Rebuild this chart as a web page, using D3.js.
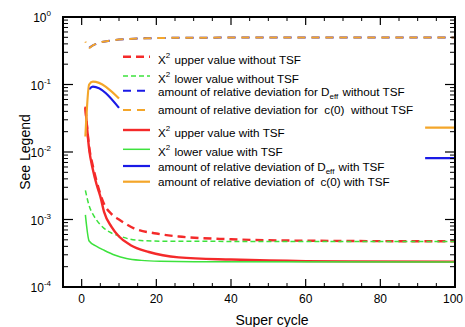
<!DOCTYPE html>
<html>
<head>
<meta charset="utf-8">
<script src="https://cdn.jsdelivr.net/npm/d3@7"></script>
<style>
  body { margin: 0; background: #fff; }
  text { font-family: "Liberation Sans", Arial, sans-serif; }
</style>
</head>
<body>
<svg id="chart"></svg>
<script>
// ===== DATA =====
// without TSF (dashed)
const xUpperNoTSF = [1, 2, 3, 4, 6, 8, 10, 14, 20, 26, 40, 60, 100];
const yUpperNoTSF = [0.045, 0.012, 0.0062, 0.0037, 0.0017, 0.0012, 0.00100, 0.00074, 0.00062, 0.00056, 0.00051, 0.000485, 0.000475];
const xLowerNoTSF = [1, 2, 3, 4, 6, 8, 10.5, 13, 17, 25, 100];
const yLowerNoTSF = [0.0027, 0.0016, 0.0012, 0.00098, 0.00074, 0.00063, 0.00056, 0.00051, 0.000485, 0.000475, 0.000472];
const xDeffNoTSF = [2, 3, 5, 8, 12, 18, 25, 40, 100];
const yDeffNoTSF = [0.35, 0.38, 0.42, 0.45, 0.47, 0.485, 0.492, 0.495, 0.495];
const xC0NoTSF = [1, 2, 3, 5, 8, 12, 18, 25, 40, 100];
const yC0NoTSF = [0.43, 0.35, 0.38, 0.42, 0.45, 0.47, 0.485, 0.492, 0.495, 0.495];
// with TSF (solid); null = gap in the curve
const xUpperTSF = [1, 2, 3, 4, 5, 6, 8, 10, 13, 18, 26, 40, 60, 100];
const yUpperTSF = [0.047, 0.011, 0.0055, 0.0033, 0.0022, 0.0013, 0.00078, 0.00056, 0.00042, 0.00033, 0.000275, 0.000255, 0.000242, 0.000238];
const xLowerTSF = [1, 2, 4, 6, 9, 12, 16, 21, 30, 100];
const yLowerTSF = [0.00117, 0.00048, 0.0004, 0.00035, 0.000295, 0.000265, 0.000248, 0.00024, 0.000236, 0.000235];
const xDeffTSF = [2, 3, 10, 50, 92, 100];
const yDeffTSF = [0.085, 0.093, 0.045, null, 0.0081, 0.0081];
const xC0TSF = [1, 2, 3, 10, 50, 92, 100];
const yC0TSF = [0.017, 0.10, 0.11, 0.062, null, 0.023, 0.023];

const legendLabels = [
  "X^{2} upper value without TSF",
  "X^{2} lower value without TSF",
  "amount of relative deviation for D_{eff} without TSF",
  "amount of relative deviation for  c(0)  without TSF",
  "X^{2} upper value with TSF",
  "X^{2} lower value with TSF",
  "amount of relative deviation of D_{eff} with TSF",
  "amount of relative deviation of  c(0) with TSF"
];

const xTicks = [0, 20, 40, 60, 80, 100];
const yTickExps = [0, -1, -2, -3, -4];

// ===== STYLES =====
const red = "#f42a2a", green = "#3de23d", blue = "#1a1ae6", orange = "#f4a62a";
const series = [
  { x: xUpperNoTSF, y: yUpperNoTSF, color: red,    dash: "8,5", w: 2.4 },
  { x: xLowerNoTSF, y: yLowerNoTSF, color: green,  dash: "5,3", w: 1.5 },
  { x: xDeffNoTSF,  y: yDeffNoTSF,  color: blue,   dash: "8,6", w: 2,   off: 0 },
  { x: xC0NoTSF,    y: yC0NoTSF,    color: orange, dash: "8,6", w: 2,   off: 7 },
  { x: xUpperTSF,   y: yUpperTSF,   color: red,    dash: null,  w: 2.4 },
  { x: xLowerTSF,   y: yLowerTSF,   color: green,  dash: null,  w: 1.5 },
  { x: xDeffTSF,    y: yDeffTSF,    color: blue,   dash: null,  w: 2.2 },
  { x: xC0TSF,      y: yC0TSF,      color: orange, dash: null,  w: 2.2 }
];
// legend layout (px): line rows and text baselines
const legendRowY = [56.7, 76, 90.7, 110, 130, 149.3, 166, 181.7];
const legendTextY = [64, 82.5, 95.5, 113.5, 137, 156, 170.5, 185.5];

const W = 465, H = 327;
const plot = { left: 63, right: 455, top: 17, bottom: 287 };

const svg = d3.select("svg#chart")
    .attr("width", W)
    .attr("height", H);

const x = d3.scaleLinear().domain([-5, 100]).range([plot.left, plot.right]);
const y = d3.scaleLog().domain([1e-4, 1]).range([plot.bottom, plot.top]);

svg.append("clipPath").attr("id", "clip")
    .append("rect")
    .attr("x", plot.left).attr("y", plot.top)
    .attr("width", plot.right - plot.left).attr("height", plot.bottom - plot.top);

// ===== LINES =====
const gen_line = d3.line()
    .defined(d => d[1] != null)
    .x(d => x(d[0]))
    .y(d => y(d[1]))
    .curve(d3.curveMonotoneX);

const lines = svg.append("g").attr("clip-path", "url(#clip)");
series.forEach(s => {
    lines.append("path")
        .datum(s.x.map((v, i) => [v, s.y[i]]))
        .attr("d", gen_line)
        .attr("fill", "none")
        .attr("stroke", s.color)
        .attr("stroke-width", s.w)
        .attr("stroke-dasharray", s.dash)
        .attr("stroke-dashoffset", s.off || 0);
});

// ===== FRAME + TICKS =====
const ax = svg.append("g").attr("stroke", "#000");
ax.append("rect")
    .attr("x", plot.left).attr("y", plot.top)
    .attr("width", plot.right - plot.left).attr("height", plot.bottom - plot.top)
    .attr("fill", "none").attr("stroke-width", 2);

const xMinor = d3.range(-5, 101, 5).filter(v => v % 20 !== 0);
xTicks.forEach(v => {
    ax.append("line").attr("x1", x(v)).attr("x2", x(v)).attr("y1", plot.bottom).attr("y2", plot.bottom - 8).attr("stroke-width", 1.2);
    ax.append("line").attr("x1", x(v)).attr("x2", x(v)).attr("y1", plot.top).attr("y2", plot.top + 8).attr("stroke-width", 1.2);
});
xMinor.forEach(v => {
    ax.append("line").attr("x1", x(v)).attr("x2", x(v)).attr("y1", plot.bottom).attr("y2", plot.bottom - 4).attr("stroke-width", 1);
    ax.append("line").attr("x1", x(v)).attr("x2", x(v)).attr("y1", plot.top).attr("y2", plot.top + 4).attr("stroke-width", 1);
});

const yMinor = [];
yTickExps.slice(1).forEach(e => d3.range(2, 10).forEach(m => yMinor.push(m * Math.pow(10, e))));
yTickExps.forEach(e => {
    const v = y(Math.pow(10, e));
    ax.append("line").attr("x1", plot.left).attr("x2", plot.left + 10).attr("y1", v).attr("y2", v).attr("stroke-width", 1.2);
    ax.append("line").attr("x1", plot.right).attr("x2", plot.right - 10).attr("y1", v).attr("y2", v).attr("stroke-width", 1.2);
});
yMinor.forEach(m => {
    const v = y(m);
    ax.append("line").attr("x1", plot.left).attr("x2", plot.left + 5).attr("y1", v).attr("y2", v).attr("stroke-width", 1);
    ax.append("line").attr("x1", plot.right).attr("x2", plot.right - 5).attr("y1", v).attr("y2", v).attr("stroke-width", 1);
});

// tick labels ("100" kept inside the window)
svg.append("g").selectAll("text")
    .data(xTicks).join("text")
    .attr("x", d => x(d) - (d === 100 ? 2 : 0)).attr("y", plot.bottom + 16)
    .attr("text-anchor", "middle")
    .attr("font-size", 12)
    .text(d => d);

const yl = svg.append("g").selectAll("text")
    .data(yTickExps).join("text")
    .attr("x", plot.left - 12).attr("y", d => y(Math.pow(10, d)) + 5)
    .attr("text-anchor", "end")
    .attr("font-size", 12);
yl.append("tspan").text("10");
yl.append("tspan").attr("dy", -6).attr("font-size", 8).text(d => d);

// axis titles
svg.append("text")
    .attr("transform", `translate(30,${(plot.top + plot.bottom) / 2}) rotate(-90)`)
    .attr("text-anchor", "middle")
    .attr("font-size", 14)
    .text("See Legend");
svg.append("text")
    .attr("x", (plot.left + plot.right) / 2 + 13).attr("y", 325)
    .attr("text-anchor", "middle")
    .attr("font-size", 14)
    .text("Super cycle");

// ===== LEGEND =====
function richText(sel, label) {
    // parse ^{..} and _{..}
    const re = /(\^\{[^}]*\}|_\{[^}]*\})/;
    label.split(re).filter(p => p.length).forEach(p => {
        if (p.startsWith("^{")) {
            sel.append("tspan").attr("dy", -6).attr("font-size", 8).text(p.slice(2, -1));
            sel.append("tspan").attr("dy", 6).text("\u200a");
        } else if (p.startsWith("_{")) {
            sel.append("tspan").attr("dy", 3).attr("font-size", 8).text(p.slice(2, -1));
            sel.append("tspan").attr("dy", -3).text("\u200a");
        } else {
            sel.append("tspan").text(p);
        }
    });
}

const leg = svg.append("g");
series.forEach((s, i) => {
    const ry = legendRowY[i];
    leg.append("line")
        .attr("x1", 123).attr("x2", 150).attr("y1", ry).attr("y2", ry)
        .attr("stroke", s.color).attr("stroke-width", s.w)
        .attr("stroke-dasharray", s.dash);
    const t = leg.append("text")
        .attr("x", 158)
        .attr("y", legendTextY[i])
        .attr("font-size", 11.7)
        .attr("xml:space", "preserve")
        .style("white-space", "pre");
    richText(t, legendLabels[i]);
});
</script>
</body>
</html>
